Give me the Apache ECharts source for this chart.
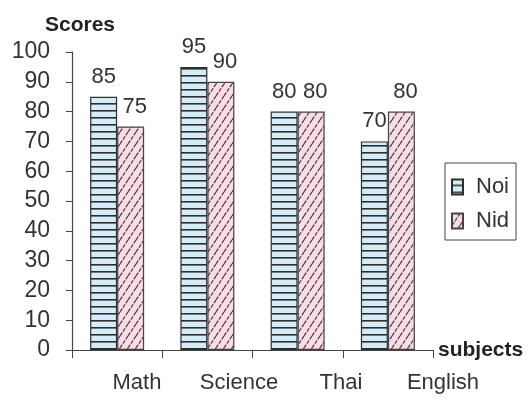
<!DOCTYPE html>
<html><head><meta charset="utf-8">
<script src="https://cdn.jsdelivr.net/npm/echarts@6/dist/echarts.min.js"></script>
<style>html,body{margin:0;padding:0;background:#fff}#c{width:531px;height:401px}</style>
</head><body><div id="c"></div>
<script>
const categories = ['Math', 'Science', 'Thai', 'English'];
const noi = [85, 95, 80, 70];
const nid = [75, 90, 80, 80];
const yTicks = [0, 10, 20, 30, 40, 50, 60, 70, 80, 90, 100];

function hLines() {
  const c = document.createElement('canvas'); c.width = 10; c.height = 7;
  const g = c.getContext('2d');
  g.fillStyle = '#d3ecf8'; g.fillRect(0, 0, 10, 7);
  g.fillStyle = '#2e2e2e'; g.fillRect(0, 5, 10, 1.6);
  return c;
}
function diag() {
  const c = document.createElement('canvas'); c.width = 8; c.height = 12;
  const g = c.getContext('2d');
  g.fillStyle = '#fbdce6'; g.fillRect(0, 0, 8, 12);
  g.strokeStyle = '#4a4a4a'; g.lineWidth = 1.3; g.setLineDash([4, 1.3]);
  for (let k = -1; k <= 1; k++) {
    g.beginPath(); g.moveTo(k * 8, 12); g.lineTo(k * 8 + 8, 0); g.stroke();
  }
  return c;
}
const font = 'Liberation Sans';
const chart = echarts.init(document.getElementById('c'));
const lbl = (dx) => ({ show: true, position: 'top', distance: 9, fontSize: 22, color: '#333', fontFamily: font, offset: [dx, 0] });
chart.setOption({
  animation: false,
  title: { text: 'Scores', left: 40, top: 10, textStyle: { fontSize: 21, fontWeight: 'bold', color: '#222', fontFamily: font } },
  legend: {
    orient: 'vertical', left: 445, top: 163,
    padding: [13, 7, 8, 6], itemGap: 12, itemWidth: 11, itemHeight: 15, icon: 'rect',
    borderColor: '#444', borderWidth: 1,
    textStyle: { fontSize: 22, color: '#333', fontFamily: font, padding: [0, 0, 0, 8] },
    data: ['Noi', 'Nid']
  },
  grid: [
    { left: 72, right: 98, top: 52, bottom: 51 },
    { left: 86, right: 37, top: 52, bottom: 51 }
  ],
  xAxis: [
    { type: 'category', data: categories, gridIndex: 0,
      name: 'subjects', nameLocation: 'end', nameGap: 5,
      nameTextStyle: { fontSize: 21, fontWeight: 'bold', color: '#222', fontFamily: font, verticalAlign: 'middle' },
      axisLine: { lineStyle: { color: '#444', width: 1.2 } },
      axisTick: { show: true, length: 8, lineStyle: { color: '#444' } },
      axisLabel: { show: false } },
    { type: 'category', data: categories, gridIndex: 1,
      axisLine: { show: false }, axisTick: { show: false },
      axisLabel: { margin: 22, fontSize: 22, color: '#333', fontFamily: font } }
  ],
  yAxis: [
    { type: 'value', min: 0, max: 100, interval: 10, gridIndex: 0,
      axisLine: { show: true, lineStyle: { color: '#444', width: 1.2 } },
      axisTick: { show: true, length: 6, lineStyle: { color: '#444' } },
      splitLine: { show: false },
      axisLabel: { margin: 22, fontSize: 23, color: '#333', fontFamily: font, padding: [10, 0, 0, 0],
        formatter: v => yTicks.includes(v) ? String(v) : '' } },
    { type: 'value', min: 0, max: 100, gridIndex: 1, show: false }
  ],
  series: [
    { name: 'Noi', type: 'bar', data: noi, barWidth: 27, barGap: '0%',
      itemStyle: { color: { image: hLines(), repeat: 'repeat' }, borderColor: '#2e2e2e', borderWidth: 1.2 },
      label: lbl(0) },
    { name: 'Nid', type: 'bar', data: nid, barWidth: 27, barGap: '0%',
      itemStyle: { color: { image: diag(), repeat: 'repeat' }, borderColor: '#444', borderWidth: 1.2 },
      label: lbl(4) }
  ]
});
</script></body></html>
